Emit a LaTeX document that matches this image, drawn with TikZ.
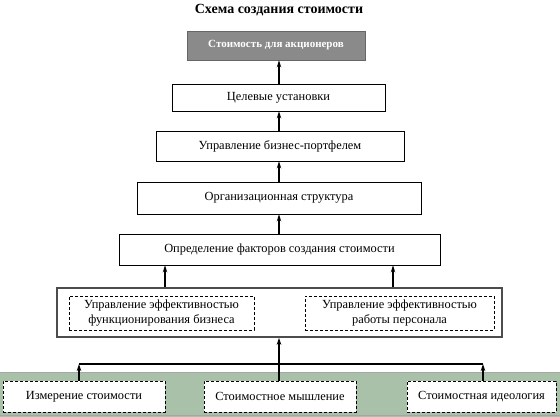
\documentclass[tikz,border=0pt]{standalone}
\usepackage{fontspec}
\setmainfont{Liberation Serif}
\usetikzlibrary{arrows.meta}
\definecolor{bandgreen}{RGB}{168,193,168}
\definecolor{topgray}{RGB}{138,138,138}
\begin{document}
\begin{tikzpicture}[x=1pt,y=-1pt,
  txt/.style={font=\fontsize{12.4}{14.5}\selectfont},
  box/.style={draw=black, line width=0.8pt, fill=white, inner sep=0pt, txt},
  dbox/.style={draw=black, dash pattern=on 3pt off 2pt, line width=0.8pt, fill=white, inner sep=0pt, align=center, txt},
  arr/.style={-{Stealth[length=7pt,width=4.5pt]}, line width=1.2pt}]
\useasboundingbox (0,0) rectangle (560,417);
% green band
\fill[bandgreen] (0,372) rectangle (560,417);
\draw[gray!70, line width=1pt] (0,372) -- (560,372);
\draw[gray!70, line width=1pt] (0,415) -- (560,415);
% title
\node[font=\fontsize{14}{16}\selectfont\bfseries] (title) at (279,10) {Схема создания стоимости};
% top gray box
\node[draw=black!60, fill=topgray, line width=0.8pt, minimum width=178pt, minimum height=29pt, inner sep=0pt,
      text=white, font=\fontsize{11}{13}\selectfont\bfseries] (n1) at (276,45.5) {Стоимость для акционеров};
\node[box, minimum width=213pt, minimum height=27pt] (n2) at (278.5,97.5) {Целевые установки};
\node[box, minimum width=248pt, minimum height=30pt] (n3) at (280,146) {Управление бизнес-портфелем};
\node[box, minimum width=284pt, minimum height=32pt] (n4) at (279,198) {Организационная структура};
\node[box, minimum width=321pt, minimum height=31pt] (n5) at (279.5,249.5) {Определение факторов создания стоимости};
% box 6
\node[draw=black!70, line width=1.6pt, fill=white, minimum width=445pt, minimum height=49pt, inner sep=0pt] (n6) at (279.5,312.5) {};
\node[dbox, minimum width=185pt, minimum height=34pt] (d1) at (161.5,313) {Управление эффективностью\\функционирования бизнеса};
\node[dbox, minimum width=189pt, minimum height=34pt] (d2) at (399.5,313) {Управление эффективностью\\работы персонала};
% bottom boxes
\node[dbox, minimum width=162pt, minimum height=31pt] (b1) at (84,396.5) {Измерение стоимости};
\node[dbox, minimum width=152pt, minimum height=31pt] (b2) at (280,396.5) {Стоимостное мышление};
\node[dbox, minimum width=149pt, minimum height=31pt] (b3) at (481.5,396.5) {Стоимостная идеология};
% coordinates for connectors
\coordinate (ax) at (279,0);
\coordinate (lx) at (165,0);
\coordinate (rx) at (393,0);
\coordinate (bl) at (79,364);
\coordinate (br) at (483,364);
% arrows in column
\draw[arr] (ax |- n2.north) -- (ax |- n1.south);
\draw[arr] (ax |- n3.north) -- (ax |- n2.south);
\draw[arr] (ax |- n4.north) -- (ax |- n3.south);
\draw[arr] (ax |- n5.north) -- (ax |- n4.south);
\draw[arr] (lx |- n6.north) -- (lx |- n5.south);
\draw[arr] (rx |- n6.north) -- (rx |- n5.south);
% bottom
\draw[line width=1.5pt] (bl) -- (br);
\draw[arr] (bl |- b1.north) -- (bl);
\draw[arr] (br |- b3.north) -- (br);
\draw[arr] (ax |- b2.north) -- (ax |- n6.south);
\end{tikzpicture}
\end{document}
